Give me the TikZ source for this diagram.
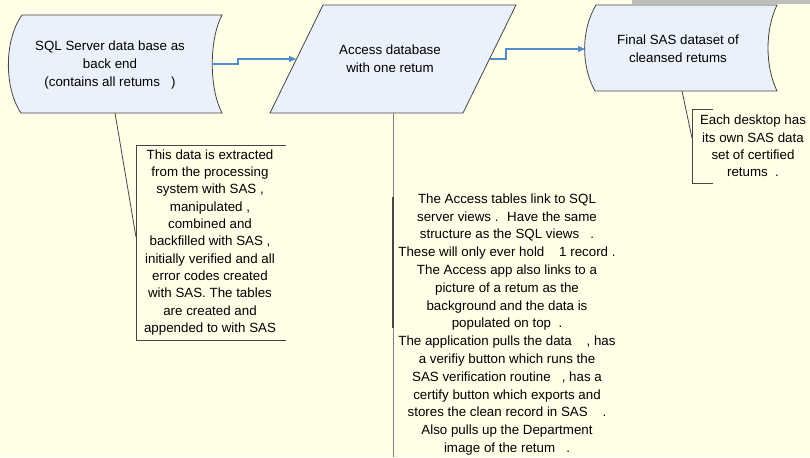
\documentclass[tikz,border=0pt]{standalone}
\usepackage{fontspec}
\setmainfont{Liberation Sans}
\usetikzlibrary{arrows.meta}
\definecolor{bgyellow}{RGB}{255,255,232}
\definecolor{shapefill}{RGB}{234,241,250}
\definecolor{edgegray}{RGB}{70,70,70}
\definecolor{flowblue}{RGB}{84,138,204}
\definecolor{bargray}{RGB}{190,190,190}
\tikzset{
  shapetext/.style={inner sep=0.75pt, align=center, font=\fontsize{10}{13.5}\selectfont},
  notetext/.style={inner sep=0.75pt, align=center, font=\fontsize{10}{13}\selectfont},
  shapeline/.style={draw=edgegray, line width=0.6pt, fill=shapefill},
  noteline/.style={draw=edgegray, line width=0.6pt},
  flow/.style={draw=flowblue, line width=0.8pt, -{Latex[length=6pt,width=5pt]}},
}
\begin{document}
\begin{tikzpicture}[x=0.75pt,y=0.75pt,yscale=-1]
%background and page margins
\fill[bgyellow] (0,0) rectangle (810,457);
\useasboundingbox (0,0) rectangle (810,457);
\fill[bargray] (632,0) rectangle (810,4);

%Stored data [id:sql]
\draw[shapeline] (22,15) -- (222,15) .. controls (209,40) and (209,88) .. (222,113) -- (21,113) .. controls (4,88) and (4,40) .. (22,15) -- cycle;
%Parallelogram [id:access]
\draw[shapeline] (323,5) -- (516,5) -- (463,113) -- (270,113) -- cycle;
%Stored data [id:final]
\draw[shapeline] (596,5) -- (777,5) .. controls (765,30) and (765,66) .. (777,91) -- (595,91) .. controls (581,66) and (581,30) .. (596,5) -- cycle;

% Text Node
\node[shapetext] (sql) at (110,65) {SQL Server data base as\\back end\\ (contains all retums~~~)};
% Text Node
\node[shapetext] (access) at (390,59) {Access database\\with one retum};
% Text Node
\node[shapetext] (final) at (678,48.5) {Final SAS dataset of\\cleansed retums};

%edge points of the shapes
\coordinate (sqlout) at (212,64);
\coordinate (sqlfoot) at (115,113);
\coordinate (accin) at (297,59);
\coordinate (accout) at (490,59);
\coordinate (accfoot) at (393,113);
\coordinate (finin) at (586,49);
\coordinate (finfoot) at (682,91);

%Flow lines
\draw[flow] (sqlout) -- ++(26,0) |- (accin);
\draw[flow] (accout) -- ++(16,0) |- (finin);

%Annotation [id:note1]
\node[notetext] (note1) at (210,242.5) {This data is extracted\\from the processing\\ system with SAS~,\\manipulated~,\\combined and\\ backfilled with SAS~,\\initially verified and all\\error codes created~\\ with SAS. The tables\\are created and\\appended to with SAS};
\coordinate (note1in) at (136,237);
\draw[noteline] (286,145) -- (136,145) -- (136,340) -- (286,340);
\draw[noteline] (sqlfoot) -- (note1in);

%Annotation [id:note2]
\node[notetext, font=\fontsize{10}{13.35}\selectfont] (note2) at (507,324.5) {The Access tables link to SQL\\server views~.~ Have the same\\ structure as the SQL views~~~.\\These will only ever hold~~~~1 record~.\\The Access app also links to a\\picture of a retum as the~\\background and the data is~\\populated on top~~.\\The application pulls the data~~~~, has\\a verifiy button which runs the~\\ SAS verification routine~~~, has a\\certify button which exports and\\stores the clean record in SAS~~~~.\\Also pulls up the Department\\image of the retum~~~.};
\coordinate (note2end) at (393,457);
\draw[draw=gray, line width=0.6pt] (accfoot) -- (note2end);
\draw[noteline, line width=1.4pt] (393,197) -- (393,328);

%Annotation [id:note3]
\node[notetext] (note3) at (753,146) {Each desktop has\\its own SAS data\\set of certified\\retums~~.};
\coordinate (note3in) at (692,138);
\draw[noteline] (713,109) -- (692,109) -- (692,183) -- (713,183);
\draw[noteline] (finfoot) -- (note3in);

\end{tikzpicture}
\end{document}
